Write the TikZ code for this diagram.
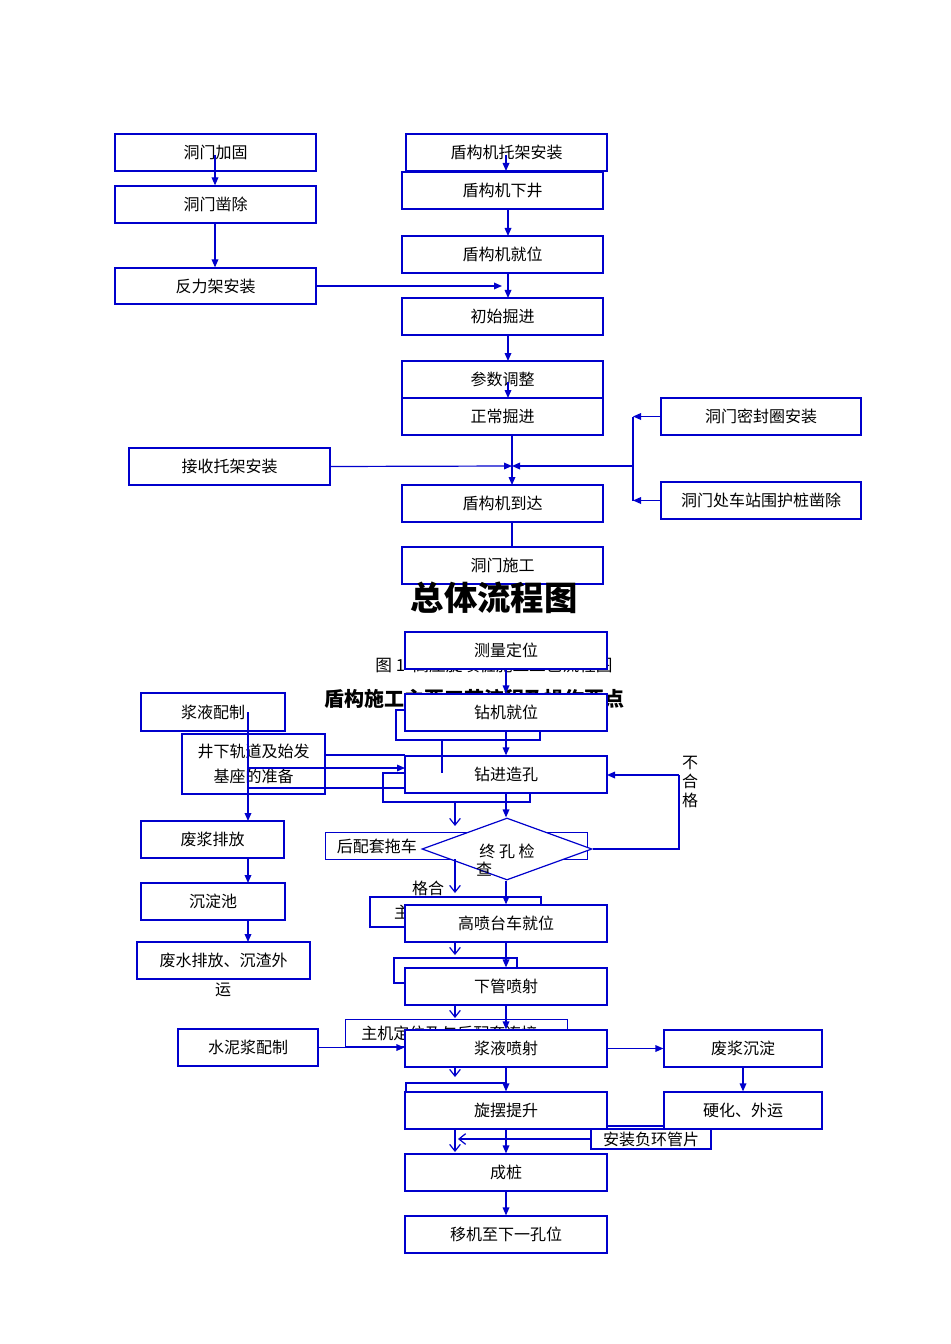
\documentclass[tikz,border=0pt]{standalone}
\usepackage{fontspec}
\setmainfont{Noto Sans CJK SC}
\usetikzlibrary{arrows.meta,shapes.geometric}
\begin{document}
\begin{tikzpicture}[x=0.75pt,y=-0.75pt,
  bx/.style={draw=blue!80!black,line width=0.9pt,fill=white,inner sep=0pt,font=\fontsize{12}{13}\selectfont},
  hb/.style={draw=blue!80!black,line width=0.9pt},
  ln/.style={draw=blue!80!black,line width=0.9pt},
  ar/.style={ln,-{Triangle[length=6pt,width=5pt]}},
  va/.style={ln,-{Straight Barb[length=5pt,width=8pt]}}]
\useasboundingbox (0,0) rectangle (950,1344);
\newcommand{\bxn}[6]{\node[bx,minimum width={(#4-#2)*0.75pt},minimum height={(#5-#3)*0.75pt}] (#1) at ({(#2+#4)/2},{(#3+#5)/2}) {#6};}
% ---- top
\bxn{a1}{115}{134}{316}{171}{洞门加固}
\bxn{a2}{115}{186}{316}{223}{洞门凿除}
\bxn{a3}{115}{268}{316}{304}{反力架安装}
\bxn{b1}{406}{134}{607}{171}{盾构机托架安装}
\bxn{b2}{402}{172}{603}{209}{盾构机下井}
\bxn{b3}{402}{236}{603}{273}{盾构机就位}
\bxn{b4}{402}{298}{603}{335}{初始掘进}
\bxn{b5}{402}{361}{603}{398}{参数调整}
\bxn{b6}{402}{398}{603}{435}{正常掘进}
\bxn{c1}{661}{398}{861}{435}{洞门密封圈安装}
\bxn{c2}{661}{482}{861}{519}{洞门处车站围护桩凿除}
\bxn{d1}{129}{448}{330}{485}{接收托架安装}
\bxn{b7}{402}{485}{603}{522}{盾构机到达}
\bxn{b8}{402}{547}{603}{584}{洞门施工}
\coordinate (p1) at (215,155); \coordinate (p2) at (506,155); \coordinate (p3) at (508,382);
\draw[ar] (p1) -- (a2.north -| p1);
\draw[ar] (a2.south -| p1) -- (a3.north -| p1);
\draw[ar] (p2) -- (506,171);
\draw[ar] (508,209) -- (508,236);
\draw[ar] (a3.east) -- (a3.east -| 502,0);
\draw[ar] (508,273) -- (508,298);
\draw[ar] (508,335) -- (508,361);
\draw[ar] (p3) -- (508,398);
\draw[ar] (512,435) -- (512,485);
\coordinate (m) at (512,466);
\draw[ar] (d1.east) -- (m);
\draw[ar] (633,466) -- (m);
\draw[ln] (633,416.5) -- (633,500.5);
\draw[ar] (c1.west) -- (c1.west -| 633,0);
\draw[ar] (c2.west) -- (c2.west -| 633,0);
\draw[ln] (512,522) -- (512,547);
% ---- titles
\node[font=\bfseries\fontsize{25}{26}\selectfont] (t1) at (494,598) {总体流程图};
\node[font=\fontsize{12.5}{13}\selectfont] (t2) at (494,665) {图 1\ \ 高压旋喷桩施工工艺流程图};
\node[font=\bfseries\fontsize{15}{16}\selectfont] (t3) at (474,699) {盾构施工主要工艺流程及操作要点};
% hidden boxes
\draw[hb] (396,710) rectangle (540,740);
\draw[hb] (383,773) rectangle (530,802);
\node[bx,minimum width={262*0.75pt},minimum height={27*0.75pt},anchor=west,align=left,text width={250*0.75pt}] (hp) at (325,846) {\ 后配套拖车};
\draw[hb] (370,897) rectangle (541,927);
\node[font=\fontsize{12}{13}\selectfont] at (402,912) {主};
\draw[hb] (394,958) rectangle (517,983);
\node[hb,minimum width={222*0.75pt},minimum height={27*0.75pt},anchor=west,align=left,text width={212*0.75pt},font=\fontsize{12}{13}\selectfont,inner sep=0pt] (zj) at (345,1033) {\ \ 主机定位及与后配套连接};
\draw[hb] (406,1092) -- (406,1083) -- (507,1083);
% ---- lower
\bxn{e1}{405}{632}{607}{669}{测量定位}
\bxn{e2}{405}{694}{607}{731}{钻机就位}
\bxn{e3}{405}{756}{607}{793}{钻进造孔}
\node[bx,align=center,font=\fontsize{12}{19}\selectfont,minimum width={143*0.75pt},minimum height={60*0.75pt}] (f2) at (253.5,764) {井下轨道及始发\\基座的准备};
\bxn{f1}{141}{693}{285}{731}{浆液配制}
\bxn{f3}{141}{821}{284}{858}{废浆排放}
\bxn{f4}{141}{883}{285}{920}{沉淀池}
\bxn{f5}{137}{942}{310}{979}{废水排放、沉渣外}
\node[font=\fontsize{12}{13}\selectfont] (yun) at (223,990) {运};
\node[diamond,aspect=2.75,draw=blue!80!black,line width=0.9pt,fill=white,minimum width={170*0.75pt},minimum height={62*0.75pt},inner sep=0pt] (dd) at (507,849) {};
\node[font=\fontsize{12}{13}\selectfont] at (507,851) {终\ 孔\ 检};
\node[font=\fontsize{12}{13}\selectfont] at (484,869) {查};
\node[font=\fontsize{12}{13}\selectfont] at (428,888) {格合};
\node[font=\fontsize{12}{14}\selectfont,align=center] at (690,782) {不\\合\\格};
\bxn{g1}{405}{905}{607}{942}{高喷台车就位}
\bxn{g2}{405}{968}{607}{1005}{下管喷射}
\bxn{g3}{405}{1030}{607}{1067}{浆液喷射}
\bxn{h1}{178}{1029}{318}{1066}{水泥浆配制}
\bxn{k1}{664}{1030}{822}{1067}{废浆沉淀}
\bxn{k2}{664}{1092}{822}{1129}{硬化、外运}
\bxn{g4}{405}{1092}{607}{1129}{旋摆提升}
\draw[ln] (607,1126) -- (664,1126);
\node[bx,minimum width={120*0.75pt},minimum height={20*0.75pt}] (az) at (651,1139) {安装负环管片};
\bxn{g5}{405}{1154}{607}{1191}{成桩}
\bxn{g6}{405}{1216}{607}{1253}{移机至下一孔位}
% connectors lower
\draw[ar] (e1.south) -- (e2.north);
\draw[ar] (e2.south) -- (e3.north);
\draw[ar] (e3.south) -- (dd.north -| e3.south);
\draw[ar] (dd.south -| e3.south) -- (g1.north);
\draw[ln] (dd.east) -- (679,849) -- (679,775);
\draw[ar] (679,775) -- (607,775);
\draw[ar] (g1.south) -- (g2.north);
\draw[ar] (g2.south) -- (g3.north);
\draw[ar] (g3.south) -- (g4.north);
\draw[ar] (g4.south) -- (g5.north);
\draw[ar] (g5.south) -- (g6.north);
\draw[ar] (h1.east) -- (h1.east -| g3.west);
\draw[ar] (g3.east) -- (g3.east -| k1.west);
\draw[ar] (k1.south) -- (k2.north);
\draw[ar] (248,712) -- (248,821);
\draw[ar] (248,858) -- (248,883);
\draw[ar] (248,920) -- (248,942);
\draw[ln] (325,755) -- (405,755);
\draw[ar] (248,768) -- (405,768);
\draw[ln] (248,788) -- (405,788);
\draw[ln] (442,740) -- (442,773);
\draw[va] (455,802) -- (455,826);
\draw[va] (455,859) -- (455,893);
\draw[va] (455,942) -- (455,955);
\draw[va] (455,1005) -- (455,1018);
\draw[va] (455,1067) -- (455,1077);
\draw[va] (455,1129) -- (455,1152);
\draw[va] (az.west) -- (az.west -| 458,0);
\end{tikzpicture}
\end{document}
